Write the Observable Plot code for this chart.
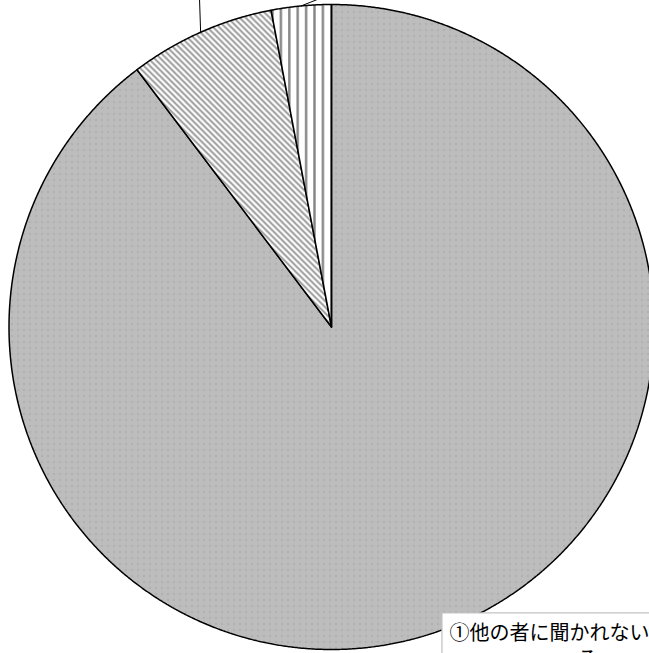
<!DOCTYPE html>
<html><head><meta charset="utf-8">
<script src="https://cdn.jsdelivr.net/npm/d3@7"></script>
<script src="https://cdn.jsdelivr.net/npm/@observablehq/plot@0.6"></script>
<style>body{margin:0;background:#fff;overflow:hidden}</style>
</head><body><div id="chart"></div>
<script>
// ---- data ----
const categories = ["①他の者に聞かれない", "②", "③"];
const values = [89.7, 7.3, 3.0];
const fills = ["url(#pChecker)", "url(#pDiag)", "url(#pVert)"];
const labelLines = ["①他の者に聞かれない", "る"];

// ---- layout (unit-circle coordinates) ----
const R = 322.5, CX = 331, CY = 326.5, W = 649, H = 653;
const xDomain = [-1, 1], xRange = [CX - R, CX + R];
const yDomain = [-1, 1], yRange = [CY + R, CY - R];
const leaderEnds = [null, {x: -0.412, y: 1.10}, {x: 0.025, y: 1.043}];
const labelPos = [{x: 0.366, y: -0.969, anchor: "start"}, {x: 0.763, y: -1.05, anchor: "start"}];
const labelBox = [{x1: 0.344, y1: -0.888, x2: 1.2, y2: -1.3}];

const arcs = d3.pie().sort(null).value(d => d.value)(categories.map((c, i) => ({cat: c, value: values[i]})));
const poly = [];
arcs.forEach(a => {
  const c = a.data.cat;
  poly.push({cat: c, x: 0, y: 0});
  const n = Math.max(2, Math.ceil((a.endAngle - a.startAngle) / 0.004));
  for (let k = 0; k <= n; k++) {
    const t = a.startAngle + (a.endAngle - a.startAngle) * k / n;
    poly.push({cat: c, x: Math.sin(t), y: Math.cos(t)});
  }
  poly.push({cat: c, x: 0, y: 0});
});
const leaders = arcs.map((a, i) => {
  if (!leaderEnds[i]) return null;
  const m = (a.startAngle + a.endAngle) / 2;
  return {x1: Math.sin(m), y1: Math.cos(m), x2: leaderEnds[i].x, y2: leaderEnds[i].y};
}).filter(d => d);
const labels = labelLines.map((t, i) => ({text: t, ...labelPos[i]}));

const svg = Plot.plot({
  width: W, height: H, margin: 0,
  x: {domain: xDomain, range: xRange, axis: null},
  y: {domain: yDomain, range: yRange, axis: null},
  color: {domain: categories, range: fills},
  style: {background: "white", overflow: "hidden"},
  marks: [
    Plot.line(poly, {x: "x", y: "y", z: "cat", fill: "cat", stroke: "black", strokeWidth: 1.5, curve: "linear", strokeLinejoin: "miter"}),
    Plot.link(leaders, {x1: "x1", y1: "y1", x2: "x2", y2: "y2", stroke: "black", strokeWidth: 1}),
    Plot.rect(labelBox, {x1: "x1", y1: "y1", x2: "x2", y2: "y2", fill: "white", stroke: "#c0c0c0", strokeWidth: 1.2}),
    Plot.text(labels, {x: "x", y: "y", text: "text", textAnchor: "start", lineAnchor: "bottom", fontSize: 20, fontFamily: "'Noto Sans CJK JP', sans-serif", fill: "black"})
  ]
});

// patterns
const defs = d3.select(svg).insert("defs", ":first-child");
const ck = defs.append("pattern").attr("id", "pChecker").attr("patternUnits", "userSpaceOnUse").attr("width", 6).attr("height", 6);
ck.append("rect").attr("width", 6).attr("height", 6).attr("fill", "#fff");
for (let i = 0; i < 6; i++) for (let j = 0; j < 6; j++) {
  let col = (i + j) % 2 === 0 ? "#7a7a7a" : "#ffffff";
  if (i === 5 || j === 5) col = (i + j) % 2 === 0 ? "#a8a8a8" : "#d0d0d0";
  ck.append("rect").attr("x", i).attr("y", j).attr("width", 1).attr("height", 1).attr("fill", col);
}
const dg = defs.append("pattern").attr("id", "pDiag").attr("patternUnits", "userSpaceOnUse").attr("width", 6).attr("height", 6);
dg.append("rect").attr("width", 6).attr("height", 6).attr("fill", "#fff");
dg.append("path").attr("d", "M-1,-1 L7,7 M-1,5 L1,7 M5,-1 L7,1").attr("stroke", "#8a8a8a").attr("stroke-width", 1.6);
const vt = defs.append("pattern").attr("id", "pVert").attr("patternUnits", "userSpaceOnUse").attr("width", 8.4).attr("height", 8);
vt.append("rect").attr("width", 8.4).attr("height", 8).attr("fill", "#fff");
vt.append("rect").attr("x", 2).attr("width", 2.4).attr("height", 8).attr("fill", "#858585");

document.getElementById("chart").appendChild(svg);
</script>
</body></html>
